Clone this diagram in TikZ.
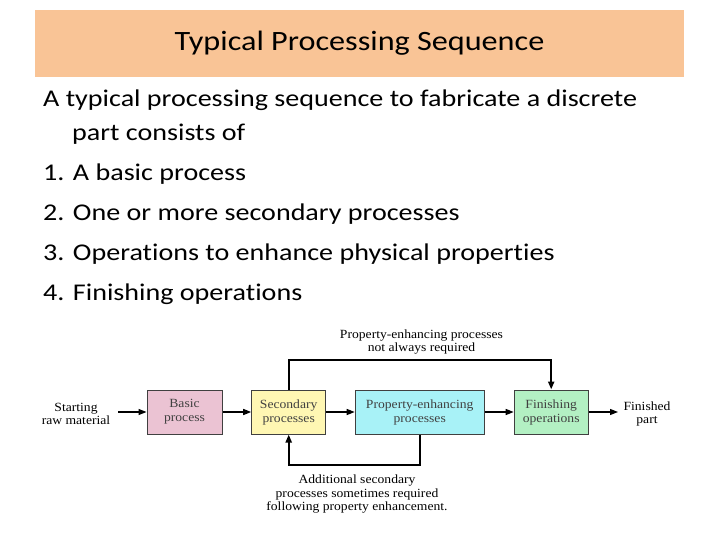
\documentclass[tikz,border=0pt]{standalone}
\usepackage{fontspec}
\setmainfont[Ligatures={NoCommon}]{Carlito}
\newfontfamily\bodyfont[FakeStretch=1.17,Ligatures={NoCommon}]{Carlito}
\newfontfamily\titlefont[FakeStretch=1.15,Ligatures={NoCommon}]{Carlito}
\newfontfamily\diagfont[FakeStretch=1.09]{Liberation Serif}
\usetikzlibrary{arrows.meta}
\definecolor{titlebg}{HTML}{F9C496}
\definecolor{pinkbox}{HTML}{EBC3D3}
\definecolor{yellowbox}{HTML}{FFF7B3}
\definecolor{cyanbox}{HTML}{A8F2F7}
\definecolor{greenbox}{HTML}{B3F0C3}
\definecolor{boxline}{HTML}{404040}
\tikzset{
  bodyline/.style={anchor=base west, inner sep=0pt, font=\bodyfont\fontsize{24}{28}\selectfont},
  procbox/.style={draw=boxline, line width=1pt, minimum height=44pt, inner sep=0pt,
     align=center, text=black!75, font=\diagfont\fontsize{12.5}{14}\selectfont},
  plainlbl/.style={align=center, inner sep=0pt, font=\diagfont\fontsize{12.5}{13.5}\selectfont},
  flow/.style={line width=1.3pt, -{Triangle[length=8pt,width=6pt]}},
  loop/.style={line width=2pt, -{Triangle[length=8pt,width=6pt]}},
}
\begin{document}
\begin{tikzpicture}[x=1pt,y=-1pt]
\useasboundingbox (0,0) rectangle (720,540);
\fill[white] (0,0) rectangle (720,540);
% title
\node[fill=titlebg, minimum width=649pt, minimum height=67pt, inner sep=0pt,
      font=\titlefont\fontsize{28}{32}\selectfont] (title) at (359.5,43.5) {Typical Processing Sequence};
% body text
\node[bodyline] (l1) at (43,107) {A typical processing sequence to fabricate a discrete};
\node[bodyline] (l2) at (72,140.5) {part consists of};
\node[bodyline] (l3) at (43,180.5) {1. A basic process};
\node[bodyline] (l4) at (43,220.5) {2. One or more secondary processes};
\node[bodyline] (l5) at (43,260.5) {3. Operations to enhance physical properties};
\node[bodyline] (l6) at (43,300.5) {4. Finishing operations};
% diagram
\node[procbox, fill=pinkbox, minimum width=75pt] (basic) at (184.5,412) {Basic\\process};
\node[procbox, fill=yellowbox, minimum width=74pt] (sec) at (288.7,412) {Secondary\\processes};
\node[procbox, fill=cyanbox, minimum width=129pt] (prop) at (419.7,412) {Property-enhancing\\processes};
\node[procbox, fill=greenbox, minimum width=74pt] (fin) at (551.2,412) {Finishing\\operations};
\node[plainlbl] (start) at (76,414) {Starting\\raw material};
\node[plainlbl] (done) at (647,414) {Finished\\part};
\node[plainlbl] (toplbl) at (421.5,342) {Property-enhancing processes\\not always required};
\node[plainlbl] (botlbl) at (357,494.5) {Additional secondary\\processes sometimes required\\following property enhancement.};
\coordinate (toprail) at (420,360);
\coordinate (botrail) at (356,465);
\coordinate (s0) at (118,412);
\coordinate (f1) at (618,412);
\draw[flow] (s0) -- (basic.west);
\draw[flow] (basic) -- (sec);
\draw[flow] (sec) -- (prop);
\draw[flow] (prop) -- (fin);
\draw[flow] (fin.east) -- (f1);
\draw[loop] (sec.north) |- (toprail) -| (fin.north);
\draw[loop] (prop.south) |- (botrail) -| (sec.south);
\end{tikzpicture}
\end{document}
